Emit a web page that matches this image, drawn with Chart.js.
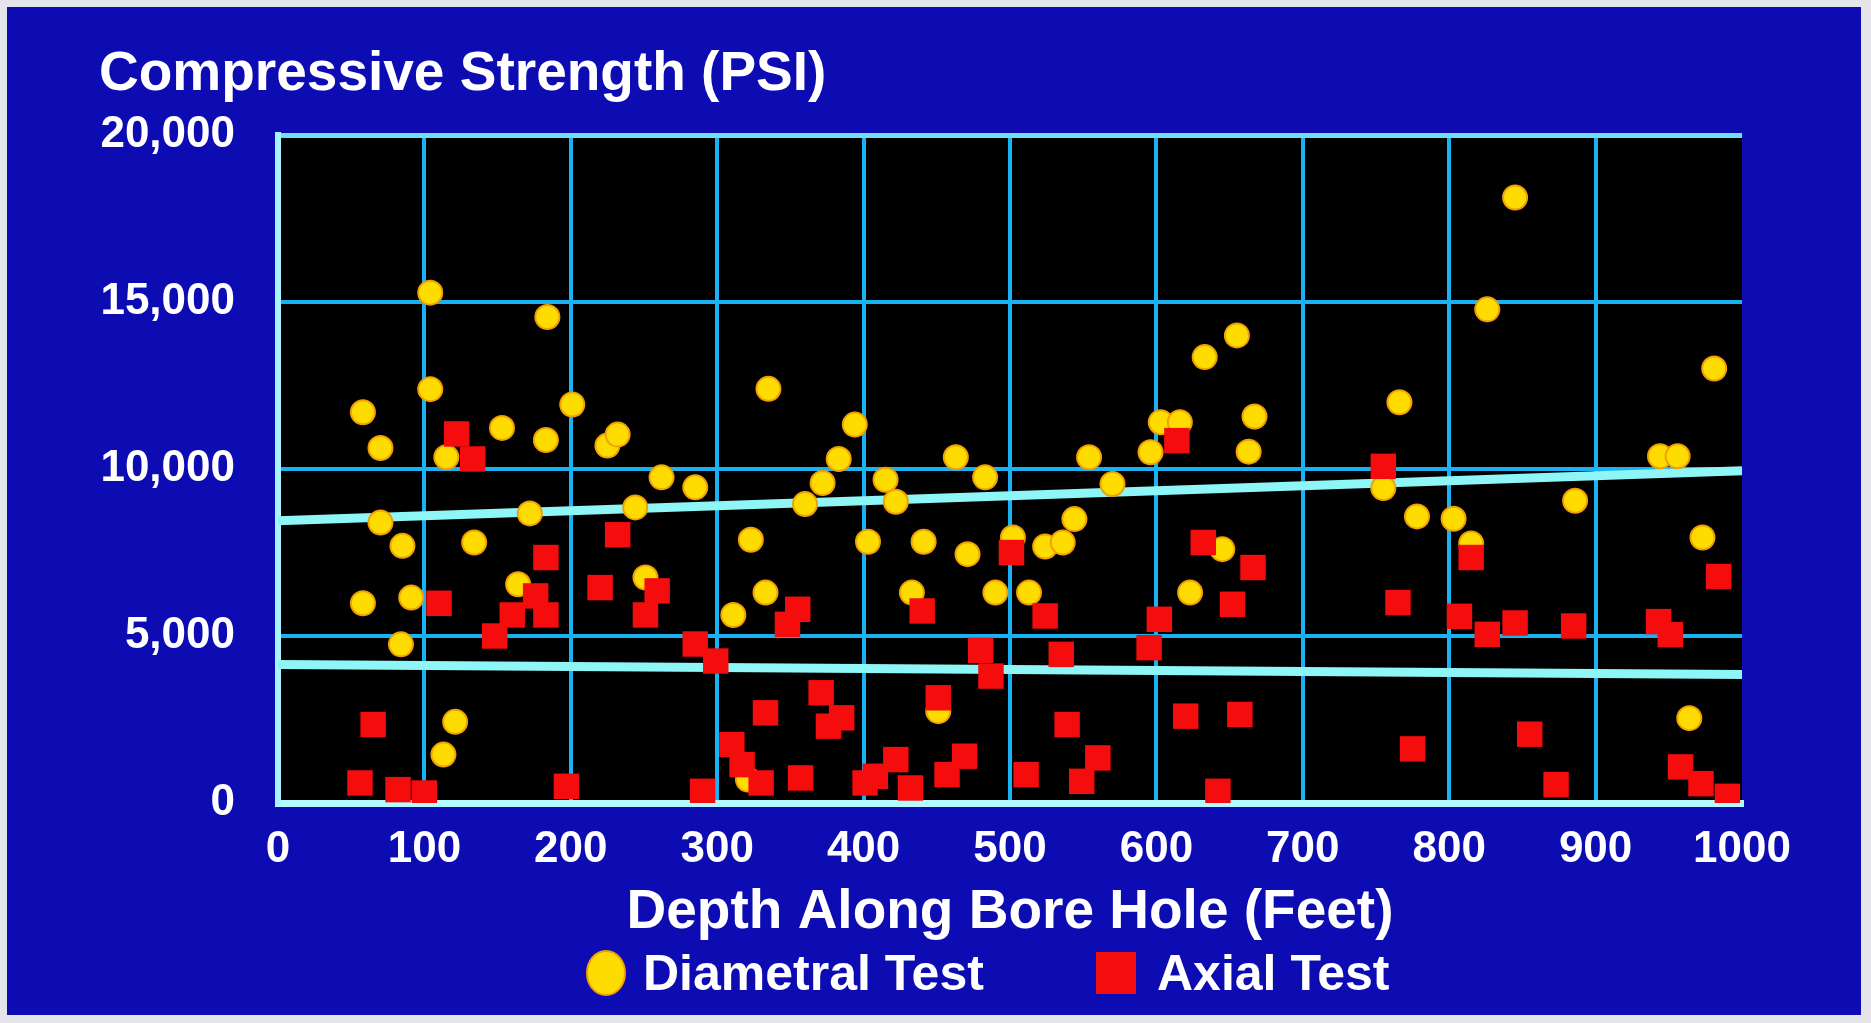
<!DOCTYPE html>
<html>
<head>
<meta charset="utf-8">
<title>Compressive Strength vs Depth</title>
<script src="https://cdn.jsdelivr.net/npm/chart.js@4.4.1/dist/chart.umd.min.js"></script>
<style>
  html, body { margin: 0; padding: 0; background: #e4e4ea; }
  canvas { display: block; }
</style>
</head>
<body>
<canvas id="strengthChart" width="1871" height="1023"></canvas>
<script>
// values
const diametralDepth = [58, 70, 70, 85, 58, 91, 84, 104, 104, 115, 113, 121, 134, 153, 164, 172, 184, 183, 201, 225,
  232, 244, 251, 262, 285, 311, 323, 321, 335, 333, 360, 372, 383, 394, 403, 415, 422, 433, 441, 451,
  463, 471, 483, 490, 502, 513, 524, 536, 544, 554, 570, 596, 603, 616, 623, 633, 645, 655, 663, 667,
  755, 766, 778, 803, 815, 826, 845, 886, 944, 956, 964, 973, 981];
const diametralPsi = [11700, 10630, 8400, 7700, 5980, 6150, 4750, 15280, 12390, 10350, 1450, 2430, 7800, 11230, 6550, 8670, 14550, 10870, 11930, 10700,
  11030, 8850, 6750, 9750, 9450, 5630, 7880, 700, 12400, 6300, 8950, 9580, 10300, 11330, 7820, 9680, 9020, 6300, 7820, 2750,
  10350, 7450, 9750, 6300, 7950, 6300, 7680, 7800, 8500, 10350, 9550, 10500, 11400, 11400, 6300, 13350, 7600, 14000, 10520, 11570,
  9430, 12000, 8580, 8510, 7770, 14780, 18130, 9050, 10380, 10380, 2540, 7950, 13010];

const axialDepth = [56, 65, 82, 100, 110, 122, 133, 148, 160, 176, 183, 183, 197, 220, 232, 251, 259, 285, 290, 299,
  310, 317, 330, 333, 348, 355, 357, 371, 376, 385, 401, 408, 422, 432, 440, 451, 457, 469, 480, 487,
  501, 511, 524, 535, 539, 549, 560, 595, 602, 614, 620, 632, 642, 652, 657, 666,
  755, 765, 775, 807, 815, 826, 845, 855, 873, 885, 943, 951, 958, 972, 984, 990];
const axialPsi = [600, 2350, 400, 300, 5980, 11050, 10300, 5000, 5630, 6200, 7350, 5630, 500, 6450, 8030, 5630, 6350, 4760, 350, 4250,
  1750, 1150, 600, 2700, 5350, 5800, 750, 3300, 2300, 2550, 600, 800, 1300, 450, 5750, 3150, 850, 1400, 4570, 3800,
  7500, 850, 5600, 4450, 2350, 650, 1350, 4650, 5500, 10850, 2600, 7800, 350, 5950, 2650, 7050,
  10080, 6000, 1620, 5590, 7350, 5050, 5390, 2060, 550, 5300, 5430, 5040, 1080, 580, 6780, 200];

const trendDepth = [0, 1000];
const upperTrendPsi = [8450, 9950];
const lowerTrendPsi = [4150, 3850];

const xTickValues = [0, 100, 200, 300, 400, 500, 600, 700, 800, 900, 1000];
const xTickLabels = ['0', '100', '200', '300', '400', '500', '600', '700', '800', '900', '1000'];
const yTickValues = [0, 5000, 10000, 15000, 20000];
const yTickLabels = ['0', '5,000', '10,000', '15,000', '20,000'];
const legendLabels = ['Diametral Test', 'Axial Test'];

const fontFamily = '"Liberation Sans", Arial, Helvetica, sans-serif';
const yellow = '#ffdc00';
const red = '#f50c0c';
const gridColor = '#1ab2f2';
const trendColor = '#8ef6f6';

function toPoints(xs, ys) {
    return xs.map((x, i) => ({ x: x, y: ys[i] }));
}

// blue slide background, black plot area and the hand placed legend
const slidePlugin = {
    id: 'slide',
    beforeDraw(chart) {
        const ctx = chart.ctx;
        const area = chart.chartArea;
        ctx.save();
        ctx.fillStyle = '#e4e4ea';
        ctx.fillRect(0, 0, chart.width, chart.height);
        ctx.fillStyle = '#0c0cb2';
        ctx.fillRect(7, 7, chart.width - 17, chart.height - 15);
        ctx.fillStyle = '#000';
        ctx.fillRect(area.left, area.top, area.right - area.left, area.bottom - area.top);
        ctx.restore();
    },
    afterDraw(chart) {
        const ctx = chart.ctx;
        const y = 973;
        ctx.save();
        ctx.fillStyle = yellow;
        ctx.strokeStyle = '#f0a000';
        ctx.lineWidth = 2;
        ctx.beginPath();
        ctx.ellipse(606, y, 19, 22, 0, 0, Math.PI * 2);
        ctx.fill();
        ctx.stroke();
        ctx.fillStyle = red;
        ctx.fillRect(1096, y - 21, 40, 42);
        ctx.fillStyle = '#fff';
        ctx.font = 'bold 50px ' + fontFamily;
        ctx.textBaseline = 'middle';
        ctx.fillText(legendLabels[0], 643, y + 3);
        ctx.fillText(legendLabels[1], 1157, y + 3);
        ctx.restore();
    }
};

const ctx = document.getElementById('strengthChart').getContext('2d');
const chart = new Chart(ctx, {
    type: 'scatter',
    data: {
        datasets: [
            {
                label: legendLabels[0],
                data: toPoints(diametralDepth, diametralPsi),
                pointStyle: 'circle',
                pointRadius: 12,
                pointBackgroundColor: yellow,
                pointBorderColor: '#f0a000',
                pointBorderWidth: 2,
                order: 2
            },
            {
                label: legendLabels[1],
                data: toPoints(axialDepth, axialPsi),
                pointStyle: 'rect',
                pointRadius: 18,
                pointBackgroundColor: red,
                pointBorderWidth: 0,
                order: 1
            },
            {
                label: 'upper trend',
                data: toPoints(trendDepth, upperTrendPsi),
                showLine: true,
                borderColor: trendColor,
                borderWidth: 9,
                pointRadius: 0,
                order: 3
            },
            {
                label: 'lower trend',
                data: toPoints(trendDepth, lowerTrendPsi),
                showLine: true,
                borderColor: trendColor,
                borderWidth: 9,
                pointRadius: 0,
                order: 4
            }
        ]
    },
    options: {
        responsive: false,
        animation: false,
        devicePixelRatio: 1,
        events: [],
        layout: {
            padding: { top: 0, left: 99, right: 129, bottom: 77 }
        },
        plugins: {
            legend: { display: false },
            tooltip: { enabled: false },
            title: {
                display: true,
                text: 'Compressive Strength (PSI)',
                align: 'start',
                color: '#fff',
                font: { family: fontFamily, size: 55, weight: 'bold' },
                padding: { top: 42, bottom: 27 }
            }
        },
        scales: {
            x: {
                type: 'linear',
                min: 0,
                max: 1000,
                afterBuildTicks: scale => { scale.ticks = xTickValues.map(v => ({ value: v })); },
                afterFit: scale => { scale.height = 143; },
                ticks: {
                    color: '#fff',
                    font: { family: fontFamily, size: 44, weight: 'bold' },
                    padding: 20,
                    maxRotation: 0,
                    autoSkip: false,
                    callback: (value, index) => xTickLabels[index]
                },
                grid: {
                    color: c => (c.tick && c.tick.value === 1000) ? 'rgba(0,0,0,0)' : gridColor,
                    lineWidth: 4,
                    drawTicks: false
                },
                border: { color: '#b4fbff', width: 7 },
                title: {
                    display: true,
                    text: 'Depth Along Bore Hole (Feet)',
                    color: '#fff',
                    font: { family: fontFamily, size: 55, weight: 'bold' },
                    padding: 0
                }
            },
            y: {
                type: 'linear',
                min: 0,
                max: 20000,
                afterBuildTicks: scale => { scale.ticks = yTickValues.map(v => ({ value: v })); },
                afterFit: scale => { scale.width = 179; },
                ticks: {
                    color: '#fff',
                    font: { family: fontFamily, size: 44, weight: 'bold' },
                    padding: 43,
                    autoSkip: false,
                    callback: (value, index) => yTickLabels[index]
                },
                grid: {
                    color: c => (c.tick && c.tick.value === 20000) ? '#6fe0f8' : gridColor,
                    lineWidth: c => (c.tick && c.tick.value === 20000) ? 5 : 4,
                    drawTicks: false
                },
                border: { color: '#a8f4ff', width: 6 }
            }
        }
    },
    plugins: [slidePlugin]
});
</script>
</body>
</html>
